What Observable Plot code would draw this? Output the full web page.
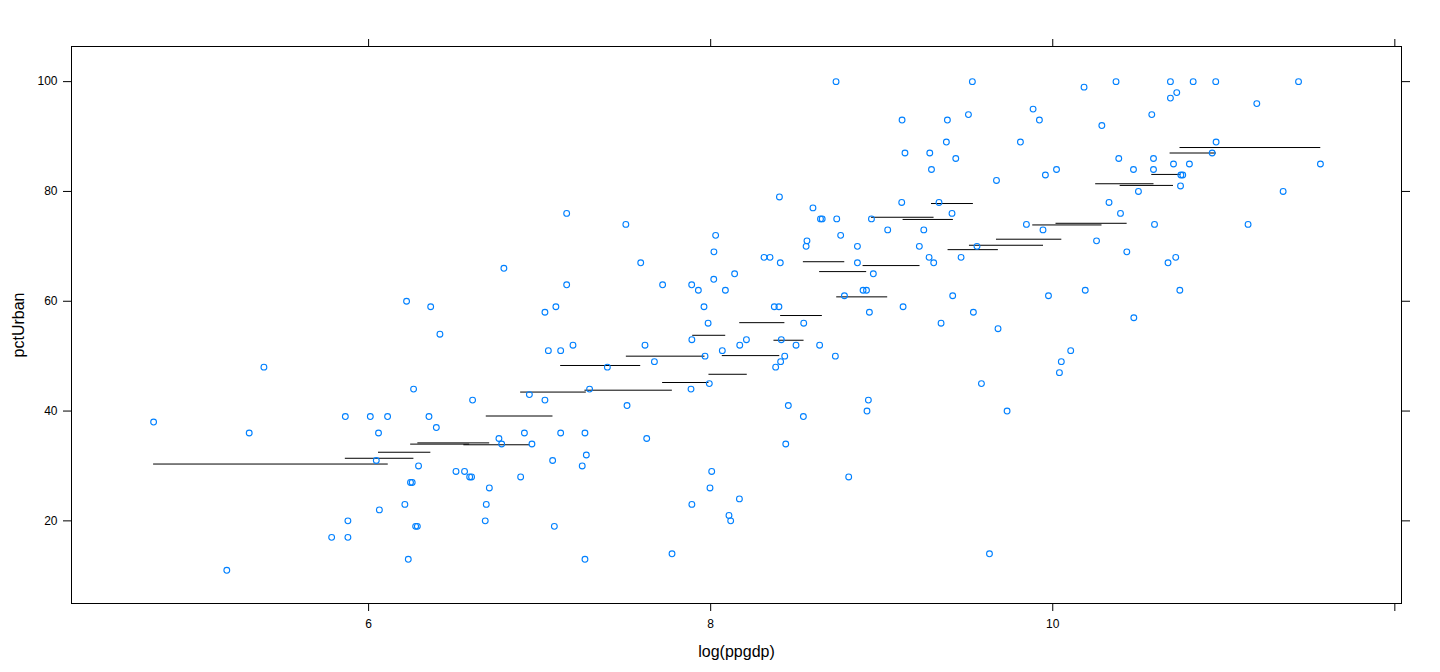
<!DOCTYPE html>
<html><head><meta charset="utf-8">
<script src="https://cdn.jsdelivr.net/npm/d3@7"></script>
<script src="https://cdn.jsdelivr.net/npm/@observablehq/plot@0.6"></script>
<style>body{margin:0;background:#fff;} #chart{width:1440px;height:672px;}</style>
</head><body><div id="chart"></div>
<script>
// log(ppgdp) per locality
const logPpgdp = [6.222,5.388,6.263,4.743,5.302,5.864,6.010,6.111,6.058,6.045,6.245,6.255,6.063,6.212,5.879,5.784,5.879,6.232,5.171,
6.363,6.417,6.608,6.353,6.396,6.762,6.778,6.911,6.955,7.123,7.265,7.273,7.249,7.076,6.292,6.511,6.561,6.591,6.602,6.889,6.706,6.688,6.682,6.275,6.285,7.086,7.265,7.774,6.940,7.031,7.292,7.511,7.626,7.396,7.051,7.123,7.195,7.031,7.095,7.158,6.791,7.616,7.671,7.719,7.889,7.928,8.018,8.140,8.086,7.961,7.985,7.890,7.967,8.068,8.170,7.885,7.992,8.006,7.996,7.890,8.168,8.107,8.117,
7.158,7.504,8.029,8.019,7.591,
8.733,9.530,9.885,9.922,9.119,9.384,9.507,9.378,9.811,9.136,9.281,9.433,9.291,9.957,10.022,9.671,8.402,8.598,8.642,8.652,8.737,8.940,9.117,9.335,9.411,9.035,9.246,8.760,8.563,8.558,8.858,9.220,8.312,8.347,8.407,8.858,9.277,9.304,9.464,9.557,9.846,9.943,9.975,8.951,8.891,8.911,8.782,9.415,8.372,8.399,8.928,9.125,9.536,8.544,9.347,
9.680,8.209,8.413,8.499,8.637,8.433,8.729,8.409,8.380,10.050,10.039,10.105,9.583,8.454,8.542,8.922,8.914,9.733,8.439,8.807,9.630,
10.183,10.370,10.688,10.821,10.953,11.437,10.725,10.688,11.193,10.579,10.287,10.955,10.932,10.386,10.589,10.706,10.799,11.565,10.472,10.589,10.749,10.760,10.747,10.501,11.347,10.329,10.396,10.595,11.142,10.256,10.433,10.719,10.674,10.190,10.743,10.474];
// pctUrban per locality
const pctUrban = [60,48,44,38,36,39,39,39,36,31,27,27,22,23,20,17,17,13,11,
59,54,42,39,37,35,34,36,34,36,36,32,30,31,30,29,29,28,28,28,26,23,20,19,19,19,13,14,43,42,44,41,35,48,51,51,52,58,59,63,66,52,49,63,63,62,64,65,62,59,56,53,50,51,52,44,45,29,26,23,24,21,20,
76,74,72,69,67,
100,100,95,93,93,93,94,89,89,87,87,86,84,83,84,82,79,77,75,75,75,75,78,78,76,73,73,72,71,70,70,70,68,68,67,67,68,67,68,70,74,73,61,65,62,62,61,61,59,59,58,59,58,56,56,
55,53,53,52,52,50,50,49,48,49,47,51,45,41,39,42,40,40,34,28,14,
99,100,100,100,100,100,98,97,96,94,92,89,87,86,86,85,85,85,84,84,83,83,81,80,80,78,76,74,74,71,69,68,67,62,62,57];

// horizontal segments (slice means)
const segFrom = [4.743,5.864,6.058,6.246,6.288,6.557,6.688,6.889,7.123,7.265,7.507,7.719,7.895,7.990,8.068,8.170,8.370,8.409,8.542,8.637,8.737,8.891,8.940,9.125,9.291,9.388,9.513,9.671,9.883,10.019,10.251,10.394,10.579,10.686,10.744];
const segTo   = [6.115,6.265,6.364,6.591,6.708,6.943,7.078,7.273,7.591,7.776,7.967,7.990,8.088,8.214,8.404,8.434,8.546,8.653,8.784,8.912,9.035,9.224,9.306,9.419,9.536,9.682,9.946,10.053,10.288,10.435,10.592,10.706,10.749,10.957,11.567];
const segMean = [30.35,31.4,32.5,33.98,34.2,33.86,39.1,43.46,48.3,43.8,50.0,45.2,53.8,46.7,50.1,56.1,52.9,57.4,67.2,65.4,60.8,66.5,75.3,74.9,77.8,69.4,70.2,71.3,73.9,74.2,81.4,81.1,83.1,87.0,88.0];

const xTicks = [6, 8, 10, 12];
const xTickLabels = ["6", "8", "10", ""];
const yTicks = [20, 40, 60, 80, 100];
const xLabel = "log(ppgdp)";
const yLabel = "pctUrban";

const points = logPpgdp.map((x, i) => ({x, y: pctUrban[i]}));
const segs = segFrom.map((x1, i) => ({x1, x2: segTo[i], y: segMean[i]}));

const chart = Plot.plot({
  width: 1440, height: 672,
  marginLeft: 71, marginRight: 39, marginTop: 46, marginBottom: 69,
  style: {fontFamily: "'Liberation Sans', Arial, Helvetica, sans-serif", fontSize: "12px", background: "white", color: "black", overflow: "visible"},
  x: {domain: [4.263, 12.039]},
  y: {domain: [4.95, 106.4]},
  marks: [
    Plot.axisX({anchor: "bottom", ticks: xTicks, tickSize: 8, tickPadding: 8, label: null,
      tickFormat: d => xTickLabels[xTicks.indexOf(d)]}),
    Plot.axisX({anchor: "top", ticks: xTicks, tickSize: 8, label: null, tickFormat: () => ""}),
    Plot.axisY({anchor: "left", ticks: yTicks, tickSize: 8, tickPadding: 6, label: null}),
    Plot.axisY({anchor: "right", ticks: yTicks, tickSize: 8, label: null, tickFormat: () => ""}),
    Plot.ruleY(segs, {y: "y", x1: "x1", x2: "x2", stroke: "black", strokeWidth: 1}),
    Plot.dot(points, {x: "x", y: "y", r: 2.9, stroke: "#0080ff", strokeWidth: 1.1, fill: "none"}),
    Plot.frame({stroke: "black"}),
    Plot.text([xLabel], {text: d => d, frameAnchor: "bottom", dy: 48, fontSize: 16, textAnchor: "middle", lineAnchor: "middle"}),
    Plot.text([yLabel], {text: d => d, frameAnchor: "left", dx: -53, rotate: -90, fontSize: 16, textAnchor: "middle", lineAnchor: "middle"})
  ]
});
document.getElementById("chart").appendChild(chart);
</script>
</body></html>
